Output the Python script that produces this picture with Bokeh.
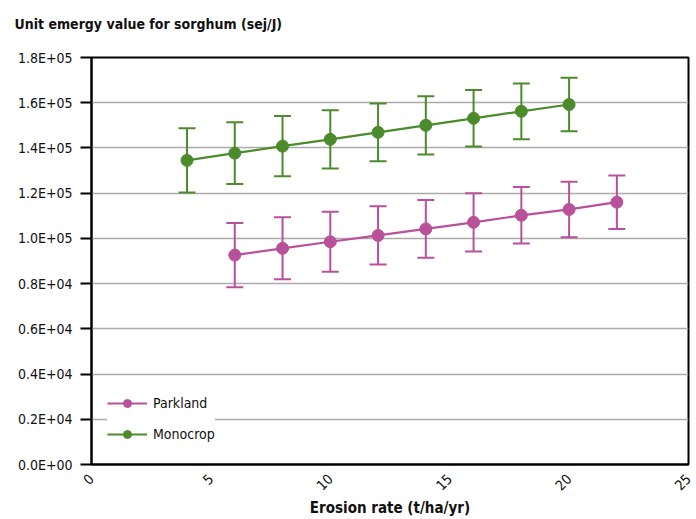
import numpy as np
from bokeh.plotting import figure
from bokeh.models import ColumnDataSource, Whisker, TeeHead, Legend, LegendItem, Range1d, FixedTicker, Title
from bokeh.embed import file_html
from bokeh.resources import INLINE
from math import pi

# Data
mono_x = [4, 6, 8, 10, 12, 14, 16, 18, 20]
mono_y = [134500, 137700, 140800, 143800, 146900, 150000, 153100, 156200, 159200]
mono_err = [14200, 13700, 13300, 12900, 12800, 12900, 12500, 12300, 11800]

park_x = [6, 8, 10, 12, 14, 16, 18, 20, 22]
park_y = [92600, 95600, 98500, 101300, 104200, 107100, 110200, 112800, 116000]
park_err = [14200, 13700, 13300, 12900, 12800, 12900, 12500, 12300, 11800]

y_ticks = [0, 20000, 40000, 60000, 80000, 100000, 120000, 140000, 160000, 180000]
y_tick_labels = ["0.0E+00", "0.2E+04", "0.4E+04", "0.6E+04", "0.8E+04",
                 "1.0E+05", "1.2E+05", "1.4E+05", "1.6E+05", "1.8E+05"]
x_ticks = [0, 5, 10, 15, 20, 25]
title_text = "Unit emergy value for sorghum (sej/J)"

FONT = "DejaVu Sans Condensed"
GREEN = "#4C8B2B"
PINK = "#B9509A"

p = figure(width=696, height=519, output_backend="svg", toolbar_location=None,
           x_range=Range1d(0, 25), y_range=Range1d(0, 180000),
           min_border_left=91, min_border_right=8, min_border_top=57, min_border_bottom=54)

# real title, with a blank spacer title between it and the frame
p.title = Title(text=title_text, align="left", offset=-77, standoff=0,
                text_font=FONT, text_font_size="14px", text_font_style="bold",
                text_color="#111111")
p.add_layout(Title(text=" ", text_font=FONT, text_font_size="14px", standoff=8), "above")

def add_series(xs, ys, errs, color):
    src = ColumnDataSource(dict(x=xs, y=ys,
                                upper=[a + b for a, b in zip(ys, errs)],
                                lower=[a - b for a, b in zip(ys, errs)]))
    w = Whisker(source=src, base="x", upper="upper", lower="lower",
                line_color=color, line_width=2,
                upper_head=TeeHead(size=17, line_color=color, line_width=2),
                lower_head=TeeHead(size=17, line_color=color, line_width=2))
    p.add_layout(w)
    ln = p.line("x", "y", source=src, line_color=color, line_width=2.2)
    sc = p.scatter("x", "y", source=src, size=12, fill_color=color, line_color=color)
    return ln, sc

pl, ps = add_series(park_x, park_y, park_err, PINK)
ml, ms = add_series(mono_x, mono_y, mono_err, GREEN)

legend = Legend(items=[LegendItem(label="Parkland", renderers=[pl, ps]),
                       LegendItem(label="Monocrop", renderers=[ml, ms])],
                location=(16, 20), label_text_font=FONT, label_text_font_size="14px",
                label_text_color="#111111", glyph_width=40, glyph_height=20,
                label_standoff=6, spacing=11, padding=8, margin=0,
                border_line_color=None, background_fill_color="white", background_fill_alpha=1)
p.add_layout(legend, "center")

# Axes
p.xaxis.ticker = FixedTicker(ticks=x_ticks)
p.yaxis.ticker = FixedTicker(ticks=y_ticks)
p.yaxis.major_label_overrides = {t: l for t, l in zip(y_ticks, y_tick_labels)}
p.xaxis.major_label_orientation = pi / 4
for ax in (p.xaxis, p.yaxis):
    ax.axis_line_color = "black"
    ax.axis_line_width = 2
    ax.major_label_text_font = FONT
    ax.major_label_text_font_size = "14px"
    ax.major_label_text_color = "#111111"
    ax.minor_tick_line_color = None
    ax.axis_label_text_font = FONT
    ax.axis_label_text_font_style = "bold"
    ax.axis_label_text_font_size = "15px"
    ax.axis_label_text_color = "#111111"
p.xaxis.major_tick_line_color = None
p.xaxis.major_label_standoff = 6
p.xaxis.axis_label = "Erosion rate (t/ha/yr)"
p.xaxis.axis_label_standoff = 1
p.yaxis.major_tick_line_color = "black"
p.yaxis.major_tick_line_width = 2
p.yaxis.major_tick_out = 11
p.yaxis.major_tick_in = 0
p.yaxis.major_label_standoff = 8

p.xgrid.grid_line_color = None
p.ygrid.grid_line_color = "#ababab"
p.ygrid.grid_line_width = 1.5

p.outline_line_color = "black"
p.outline_line_width = 2
p.outline_line_alpha = 1

open("out.html", "w").write(file_html(p, INLINE))
